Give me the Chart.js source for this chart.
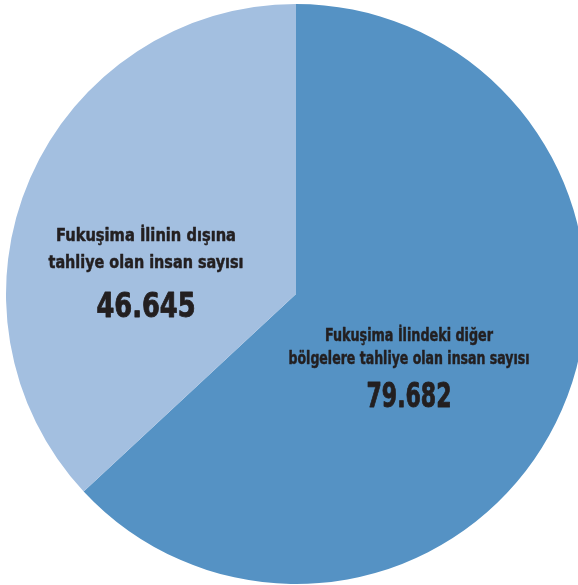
<!DOCTYPE html>
<html>
<head>
<meta charset="utf-8">
<script src="https://cdn.jsdelivr.net/npm/chart.js@4/dist/chart.umd.min.js"></script>
<style>
  html, body { margin: 0; padding: 0; background: #fff; overflow: hidden; }
  #wrap { width: 578px; height: 585px; overflow: hidden; position: relative; }
  canvas { position: absolute; left: 0; top: 0; }
</style>
</head>
<body>
<div id="wrap"><canvas id="pie" width="592" height="585"></canvas></div>
<script>
// veriler
const categories = [
  ['Fukuşima İlindeki diğer', 'bölgelere tahliye olan insan sayısı'],
  ['Fukuşima İlinin dışına', 'tahliye olan insan sayısı']
];
const values = [79682, 46645];
const valueLabels = ['79.682', '46.645'];
const colors = ['#5592c4', '#a3bfe0'];

// opmaak van de labels: offset vanaf het middelpunt, basislijnen en breedtes per regel
const labelLayout = [
  { dx: 113, baselines: [47, 70, 113], widths: [168, 241, 85] },
  { dx: -150, baselines: [-53, -26, 23], widths: [180, 195, 99] }
];

const FONT = '"DejaVu Sans Condensed", sans-serif';

// smal lettertype nabootsen door horizontaal te schalen tot de gewenste breedte
function fittedText(ctx, text, x, y, width, stroke) {
  const w = ctx.measureText(text).width;
  ctx.save();
  ctx.translate(x, y);
  ctx.scale(width / w, 1);
  ctx.fillText(text, 0, 0);
  ctx.lineWidth = stroke;
  ctx.strokeText(text, 0, 0); // iets vetter maken
  ctx.restore();
}

const labelPlugin = {
  id: 'sliceLabels',
  afterDraw(chart) {
    const ctx = chart.ctx;
    const arc = chart.getDatasetMeta(0).data[0];
    const cx = arc.x, cy = arc.y;
    ctx.save();
    ctx.fillStyle = '#231f20';
    ctx.strokeStyle = '#231f20';
    ctx.lineJoin = 'round';
    ctx.textAlign = 'center';
    ctx.textBaseline = 'alphabetic';
    categories.forEach((lines, i) => {
      const l = labelLayout[i];
      const x = cx + l.dx;
      ctx.font = 'bold 18px ' + FONT;
      fittedText(ctx, lines[0], x, cy + l.baselines[0], l.widths[0], 0.5);
      fittedText(ctx, lines[1], x, cy + l.baselines[1], l.widths[1], 0.5);
      ctx.font = 'bold 33.5px ' + FONT;
      fittedText(ctx, valueLabels[i], x, cy + l.baselines[2], l.widths[2], 0.9);
    });
    ctx.restore();
  }
};

new Chart(document.getElementById('pie'), {
  type: 'pie',
  data: {
    labels: categories.map(c => c.join(' ')),
    datasets: [{
      data: values,
      backgroundColor: colors,
      borderWidth: 0
    }]
  },
  options: {
    responsive: false,
    animation: false,
    layout: { padding: { top: 4, bottom: 1, left: 6, right: 6 } },
    plugins: {
      legend: { display: false },
      tooltip: { enabled: false }
    }
  },
  plugins: [labelPlugin]
});
</script>
</body>
</html>
